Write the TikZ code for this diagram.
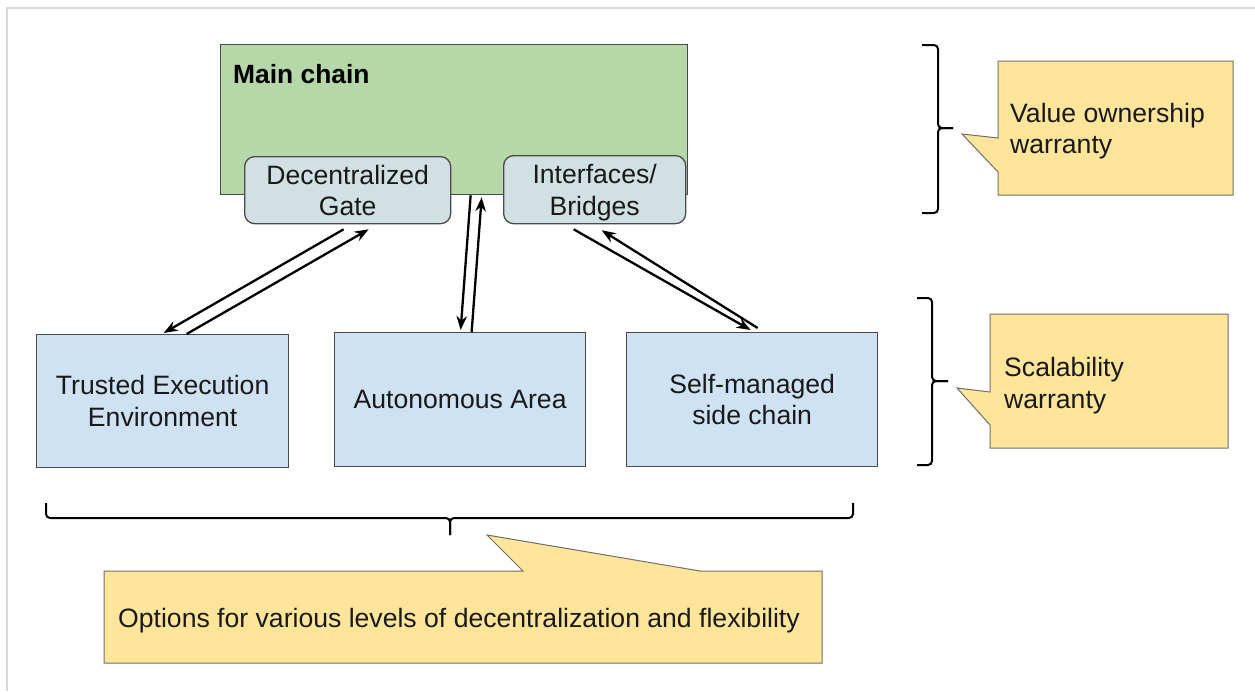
\documentclass[tikz,border=0pt]{standalone}
\usepackage{fontspec}
\setmainfont{Liberation Sans}
\usetikzlibrary{arrows.meta,calc}
\definecolor{mainfill}{HTML}{B6D7A8}
\definecolor{gatefill}{HTML}{D0E0E3}
\definecolor{boxfill}{HTML}{CFE2F3}
\definecolor{callfill}{HTML}{FFE599}
\definecolor{edge}{HTML}{4A4A4A}
\definecolor{frame}{HTML}{D9D9D9}
\tikzset{
  txt/.style={font=\fontsize{26.6}{31.5}\selectfont, text=black!90, align=center, inner sep=0pt},
  mainbox/.style={draw=edge, line width=1.3pt, fill=mainfill, anchor=north west, inner sep=0pt},
  gatebox/.style={draw=edge, line width=1.3pt, fill=gatefill, rounded corners=10pt, anchor=north west, txt, text depth=-4pt},
  lowbox/.style={draw=edge, line width=1.3pt, fill=boxfill, anchor=north west, txt},
  callshape/.style={draw=edge!80, line width=1pt, fill=callfill},
  bracepath/.style={draw=black, line width=2pt, rounded corners=4pt},
  conn/.style={draw=black, line width=2.3pt, -{Stealth[length=14pt,width=10.5pt,inset=4.5pt]}},
}
\begin{document}
\begin{tikzpicture}[x=1pt,y=-1pt]
\useasboundingbox (0,0) rectangle (1255,691);
\fill[white] (0,0) rectangle (1255,691);
\draw[frame, line width=2pt] (7,691) -- (7,8) -- (1255,8);

% main chain
\node[mainbox, minimum width=467pt, minimum height=150pt] (main) at (220,44) {};
\node[font=\fontsize{26.4}{31}\selectfont\bfseries, anchor=west, inner sep=0pt] (mainlbl) at (233,74) {Main chain};
\node[gatebox, minimum width=206pt, minimum height=67pt] (dgate) at (244,156) {Decentralized\\Gate};
\node[gatebox, minimum width=182pt, minimum height=68pt] (ibridge) at (503,155) {Interfaces/\\Bridges};

% lower boxes
\node[lowbox, minimum width=252pt, minimum height=133pt] (tee) at (36,334) {Trusted Execution\\Environment};
\node[lowbox, minimum width=251pt, minimum height=134pt] (auto) at (334,332) {Autonomous Area};
\node[lowbox, minimum width=251pt, minimum height=134pt] (self) at (626,332) {Self-managed\\side chain};

% connectors
\draw[conn] ([xshift=-4pt,yshift=-5pt]dgate.south) -- ([xshift=1pt,yshift=1pt]tee.north);
\draw[conn] ([xshift=24pt]tee.north) -- ([xshift=21pt,yshift=-5pt]dgate.south);
\draw[conn] ([xshift=16.5pt]main.south) -- ([xshift=0.5pt,yshift=2pt]auto.north);
\draw[conn] ([xshift=11.5pt]auto.north) -- ([xshift=27.5pt,yshift=-2pt]main.south);
\draw[conn] ([xshift=-21pt,yshift=-5pt]ibridge.south) -- ([xshift=-1.5pt,yshift=2pt]self.north);
\draw[conn] ([xshift=5.5pt,yshift=4pt]self.north) -- ([xshift=7pt,yshift=-6pt]ibridge.south);

% braces
\draw[bracepath] (922,45) -- (938,45) -- (938,128) -- (953,128);
\draw[bracepath] (922,213) -- (938,213) -- (938,128) -- (953,128);
\draw[bracepath] (917,298) -- (932,298) -- (932,381) -- (948,381);
\draw[bracepath] (917,465) -- (932,465) -- (932,381) -- (948,381);
\draw[bracepath] (46,503) -- (46,518) -- (450,518) -- (450,535);
\draw[bracepath] (853,503) -- (853,518) -- (450,518) -- (450,535);

% callouts
\draw[callshape] (998,61) -- (1233,61) -- (1233,195) -- (998,195) -- (998,172) -- (962,134) -- (998,138) -- cycle;
\node[txt, align=left, anchor=west] (c1) at (1010,131) {Value ownership\\warranty};
\draw[callshape] (990,314) -- (1228,314) -- (1228,448) -- (990,448) -- (990,425) -- (957,388) -- (990,392) -- cycle;
\node[txt, align=left, anchor=west] (c2) at (1004,385.5) {Scalability\\warranty};
\draw[callshape] (104,571) -- (523,571) -- (487,535) -- (700,571) -- (822,571) -- (822,663) -- (104,663) -- cycle;
\node[txt, align=left, anchor=west] (c3) at (118,620.5) {Options for various levels of decentralization and flexibility};
\end{tikzpicture}
\end{document}
